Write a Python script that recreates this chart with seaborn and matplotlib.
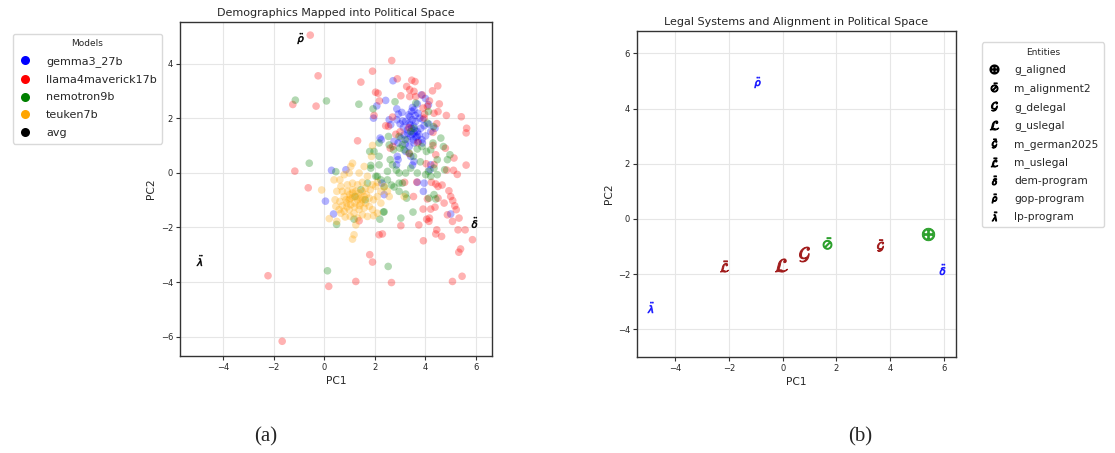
import matplotlib
matplotlib.use("Agg")
import matplotlib.pyplot as plt
from matplotlib.lines import Line2D
import pandas as pd
import seaborn as sns

# ---------------- data ----------------
models = ["gemma3_27b", "llama4maverick17b", "nemotron9b", "teuken7b", "avg"]
model_colors = ["blue", "red", "green", "orange", "black"]

gemma_pts = [
    (2.72, 3.37), (2.43, 2.65), (2.08, 2.45), (1.95, 2.00), (2.87, 2.34), (2.93, 2.15),
    (3.07, 2.21), (3.49, 2.39), (3.55, 2.30), (3.68, 2.52), (3.84, 2.85), (4.00, 2.72),
    (4.12, 2.49), (3.71, 2.18), (3.39, 2.06), (3.22, 1.88), (3.36, 1.82), (3.49, 1.94),
    (3.62, 1.88), (3.55, 1.70), (3.45, 1.63), (3.29, 1.57), (3.13, 1.66), (3.00, 1.79),
    (2.87, 1.94), (2.57, 1.94), (2.63, 1.76), (3.68, 1.51), (3.82, 1.63), (3.95, 1.72),
    (4.14, 1.78), (4.38, 1.63), (4.21, 1.51), (4.01, 1.35), (3.86, 1.21), (3.68, 1.33),
    (3.55, 1.45), (3.42, 1.33), (3.29, 1.21), (3.16, 1.39), (3.03, 1.27), (2.92, 1.09),
    (2.76, 1.15), (2.21, 1.27), (2.26, 1.21), (3.36, 0.96), (3.55, 1.09), (3.72, 1.15),
    (3.88, 1.09), (3.22, 0.78), (3.42, 0.60), (2.89, 0.60), (2.92, 0.48), (3.55, 0.41),
    (2.86, 0.29), (3.49, 0.28), (4.21, 0.29), (4.18, 0.11), (3.95, -0.38), (3.68, -0.35),
    (3.92, -0.68), (2.28, -0.38), (2.37, -0.80), (5.00, -1.51), (0.86, 0.11), (0.29, 0.09),
    (0.05, -1.04), (0.37, -1.51), (3.78, 2.00), (3.33, 2.12), (3.40, 1.75), (3.58, 1.55),
    (3.47, 1.40), (3.63, 1.30), (3.30, 1.45), (3.52, 1.20), (3.75, 1.40), (3.20, 1.05),
    (3.60, 2.10), (3.90, 1.95), (3.10, 1.90), (3.45, 2.25),
]

llama_pts = [
    (-0.55, 5.04), (-0.24, 3.55), (-0.32, 2.44), (-1.24, 2.50), (1.45, 3.32), (1.91, 3.72),
    (2.67, 4.11), (2.89, 3.44), (3.46, 3.39), (3.59, 3.34), (3.26, 3.16), (3.38, 3.04),
    (3.55, 2.98), (2.03, 2.95), (2.13, 2.91), (3.03, 2.82), (3.38, 2.79), (3.62, 2.79),
    (3.88, 2.85), (4.28, 3.00), (4.49, 3.18), (2.18, 2.63), (4.16, 2.63), (4.55, 2.52),
    (4.08, 2.43), (3.91, 2.37), (4.50, 2.24), (4.34, 2.18), (3.97, 2.15), (4.83, 2.10),
    (5.42, 2.05), (5.63, 1.63), (5.61, 1.46), (2.70, 2.04), (1.97, 2.10), (2.43, 1.72),
    (2.54, 1.70), (2.83, 1.41), (4.30, 1.48), (1.32, 1.17), (2.71, 0.96), (2.61, 0.90),
    (4.79, 0.90), (4.41, 0.66), (5.13, 0.54), (3.36, 0.70), (4.03, 0.33), (4.34, 0.30),
    (4.84, 0.10), (5.11, 0.09), (5.26, -0.06), (5.61, 0.28), (-1.16, 0.06), (-0.63, -0.55),
    (3.66, -0.34), (4.24, -0.35), (4.41, -0.41), (4.66, -0.45), (4.50, -0.50), (4.93, -0.66),
    (5.00, -0.87), (5.08, -1.02), (5.16, -1.21), (5.22, -1.35), (4.74, -1.11), (4.50, -0.93),
    (4.38, -1.26), (4.21, -1.33), (3.91, -1.33), (3.53, -0.87), (4.08, -0.96), (4.87, -1.54),
    (5.07, -1.78), (5.29, -2.09), (5.57, -2.09), (5.86, -2.45), (5.39, -2.79), (5.32, -2.91),
    (5.45, -3.79), (5.07, -3.98), (4.64, -2.33), (4.45, -2.09), (4.41, -2.24), (3.92, -2.49),
    (4.05, -1.70), (4.16, -1.66), (4.14, -1.78), (3.74, -1.91), (3.03, -1.94), (2.17, -2.27),
    (2.30, -2.24), (1.80, -3.00), (1.91, -3.27), (1.25, -3.98), (0.18, -4.16), (2.66, -4.02),
    (-2.22, -3.77), (-1.66, -6.17), (1.38, -1.76), (3.18, -0.35), (5.33, -1.66), (3.00, 1.50),
    (3.95, 2.00), (3.70, 1.10), (4.30, 1.00), (3.35, 1.65), (4.45, 1.80),
]

nemotron_pts = [
    (-1.14, 2.66), (0.09, 2.63), (1.37, 2.51), (1.93, 2.34), (2.80, 2.60), (3.62, 2.55),
    (4.12, 2.24), (-0.59, 0.35), (0.46, 0.04), (0.49, -1.89), (0.13, -3.59), (2.53, -3.43),
    (2.20, -1.70), (2.37, -1.43), (1.18, -1.70), (3.03, -1.66), (3.51, -1.44), (3.22, -0.78),
    (3.09, -0.38), (2.96, -0.38), (2.66, -0.45), (2.50, -0.26), (2.24, -0.26), (2.04, -0.13),
    (1.84, 0.17), (1.80, 0.78), (1.97, 0.78), (2.17, 0.60), (2.17, 0.29), (2.50, 0.05),
    (2.70, 0.29), (2.54, 1.33), (2.57, 1.02), (2.74, 0.84), (2.99, 0.90), (3.09, 1.02),
    (3.16, 0.84), (3.36, 0.72), (3.53, 0.60), (3.68, 0.87), (3.86, 0.96), (4.04, 0.78),
    (4.21, 0.84), (4.30, 1.09), (4.32, 1.69), (4.08, 1.82), (4.61, 1.27), (4.71, 0.96),
    (4.97, 0.66), (4.87, 0.48), (4.47, 0.48), (4.34, 0.17), (4.76, 0.11), (4.47, -0.07),
    (4.21, -0.13), (4.01, -0.07), (4.12, 0.05), (3.68, -0.01), (3.42, 0.17), (3.22, -0.01),
    (2.96, -0.01), (4.34, -0.80), (4.41, -0.96), (4.14, -0.93), (3.26, -0.93), (2.96, -0.68),
    (2.76, -0.52), (2.37, -0.52), (2.10, -0.13), (1.84, 0.27), (1.71, -0.38), (1.45, -0.62),
    (1.22, -0.87), (1.62, -0.99), (2.34, -1.44), (3.55, 1.63), (3.42, 1.51), (3.20, 1.21),
    (2.96, 1.33), (2.17, 1.09), (2.61, 0.48), (3.80, 0.40), (2.85, 0.10),
]

teuken_pts = [
    (-0.10, -0.63), (0.20, -1.68), (0.50, -1.78), (1.12, -2.43), (1.18, -2.27), (1.25, -1.91),
    (1.12, 0.35), (1.05, 0.23), (0.99, -0.01), (0.79, -0.07), (0.62, -0.26), (0.39, -0.26),
    (1.38, -0.01), (1.58, 0.23), (1.91, 1.00), (1.87, 0.60), (1.71, -0.13), (1.51, -0.35),
    (1.32, -0.44), (1.12, -0.38), (0.92, -0.44), (0.66, -0.50), (0.50, -0.68), (0.43, -0.99),
    (0.46, -1.23), (0.62, -1.05), (0.79, -0.87), (0.92, -0.68), (1.03, -0.93), (1.12, -0.74),
    (1.25, -0.68), (1.38, -0.74), (1.51, -0.68), (1.64, -0.56), (1.82, -0.62), (1.91, -0.44),
    (2.04, -0.50), (2.24, -0.68), (2.37, -0.50), (2.10, -0.87), (1.95, -0.99), (1.78, -0.93),
    (1.64, -1.11), (1.51, -0.99), (1.32, -0.99), (1.21, -1.11), (1.05, -1.17), (0.89, -1.11),
    (0.72, -1.21), (0.59, -1.35), (0.79, -1.41), (0.99, -1.35), (1.18, -1.48), (1.38, -1.35),
    (1.58, -1.29), (1.78, -1.23), (1.91, -1.35), (2.10, -1.48), (1.95, -1.57), (1.71, -1.60),
    (1.51, -1.54), (1.32, -1.66), (1.03, -1.60), (0.83, -1.62), (0.66, -1.48), (1.12, -0.90),
    (1.45, -1.11), (0.99, -0.99), (0.86, -0.99), (1.29, -0.87), (1.42, -0.93), (1.58, -0.87),
    (1.67, -0.80), (2.10, -0.35), (2.50, -0.68), (2.57, -0.87), (3.16, -0.87), (2.24, -1.11),
    (1.12, -0.62), (0.72, -0.68), (1.20, -1.25), (1.00, -0.80), (1.40, -1.20), (0.90, -1.25),
]

# programs (shared by both panels)
program_names = ["dem-program", "gop-program", "lp-program"]
program_x = [5.94, -0.97, -4.96]
program_y = [-1.82, 4.95, -3.18]
program_markers = [r"$\ddot{\delta}$", r"$\ddot{\rho}$", r"$\ddot{\lambda}$"]

# legal systems / alignment entities (right panel)
entity_names = ["g_aligned", "m_alignment2", "g_delegal", "g_uslegal",
                "m_german2025", "m_uslegal"]
entity_x = [5.40, 1.64, 0.79, -0.07, 3.62, -2.20]
entity_y = [-0.53, -0.86, -1.28, -1.68, -0.93, -1.71]
entity_markers = [r"$\oplus$", r"$\bar{\oslash}$", r"$\mathcal{G}$", r"$\mathcal{L}$",
                  r"$\bar{\mathcal{G}}$", r"$\bar{\mathcal{L}}$"]
entity_colors = ["#2ca02c", "#2ca02c", "#a11c1c", "#a11c1c", "#a11c1c", "#a11c1c"]

# ---------------- build table ----------------
rows = []
for name, pts in zip(models[:4], [gemma_pts, llama_pts, nemotron_pts, teuken_pts]):
    for x, y in pts:
        rows.append({"PC1": x, "PC2": y, "model": name})
df = pd.DataFrame(rows)

# ---------------- figure ----------------
sns.set_theme(style="ticks")
plt.rcParams["font.family"] = ["DejaVu Sans"]
fig = plt.figure(figsize=(11.15, 4.53), dpi=100)

axL = fig.add_axes([0.1614, 0.2141, 0.2798, 0.7373])
axR = fig.add_axes([0.5713, 0.2119, 0.2861, 0.7196])

for ax in (axL, axR):
    ax.grid(True, color="#e6e6e6", linewidth=0.8)
    ax.set_axisbelow(True)
    for sp in ax.spines.values():
        sp.set_visible(True)
        sp.set_color("#333333")
        sp.set_linewidth(1.0)
    ax.tick_params(axis="both", labelsize=6, length=3, width=0.8, color="#333333", pad=2)

# left panel
sns.scatterplot(data=df, x="PC1", y="PC2", hue="model", hue_order=models[:4],
                palette=dict(zip(models, model_colors)), s=30, alpha=0.3,
                linewidth=0, ax=axL, legend=False)
for x, y, m in zip(program_x, program_y, program_markers):
    sns.scatterplot(x=[x], y=[y], marker=m, s=60, color="black",
                    edgecolor="black", linewidth=0.4, ax=axL)
axL.set_xlim(-5.7, 6.63)
axL.set_ylim(-6.71, 5.52)
axL.set_xticks([-4, -2, 0, 2, 4, 6])
axL.set_yticks([-6, -4, -2, 0, 2, 4])
axL.set_title("Demographics Mapped into Political Space", fontsize=8, pad=4)
axL.set_xlabel("PC1", fontsize=7.7, labelpad=3)
axL.set_ylabel("PC2", fontsize=7.7, labelpad=3)

handlesL = [Line2D([], [], marker="o", linestyle="", markersize=6.5, color=c,
                   markeredgewidth=0) for c in model_colors]
fig.legend(handlesL, models, title="Models", loc="upper left",
           bbox_to_anchor=(0.0063, 0.938), fontsize=8, title_fontsize=6.5,
           labelspacing=0.7, handlelength=1.2, handletextpad=1.3,
           frameon=True, edgecolor="#d0d0d0", fancybox=True, borderpad=0.5)

# right panel
ent_sizes = [80, 70, 115, 90, 70, 65]
for x, y, m, c, s in zip(entity_x, entity_y, entity_markers, entity_colors, ent_sizes):
    sns.scatterplot(x=[x], y=[y], marker=m, s=s, color=c, edgecolor=c,
                    linewidth=0.7, ax=axR)
for x, y, m in zip(program_x, program_y, program_markers):
    sns.scatterplot(x=[x], y=[y], marker=m, s=60, color="blue", edgecolor="blue",
                    alpha=0.75, linewidth=0.6, ax=axR)
axR.set_xlim(-5.43, 6.46)
axR.set_ylim(-5.0, 6.81)
axR.set_xticks([-4, -2, 0, 2, 4, 6])
axR.set_yticks([-4, -2, 0, 2, 4, 6])
axR.set_title("Legal Systems and Alignment in Political Space", fontsize=8, pad=4)
axR.set_xlabel("PC1", fontsize=7.7, labelpad=3)
axR.set_ylabel("PC2", fontsize=7.7, labelpad=3)

all_names = entity_names + program_names
all_markers = entity_markers + program_markers
handlesR = [Line2D([], [], marker=m, linestyle="", markersize=6.5, color="black",
                   markeredgecolor="black", markeredgewidth=0.8) for m in all_markers]
fig.legend(handlesR, all_names, title="Entities", loc="upper left",
           bbox_to_anchor=(0.876, 0.918), fontsize=7.7, title_fontsize=6.5,
           labelspacing=0.72, handlelength=1.2, handletextpad=1.3,
           frameon=True, edgecolor="#d0d0d0", fancybox=True, borderpad=0.5)

# captions
fig.text(0.2386, 0.035, "(a)", fontsize=15, family="Liberation Serif", ha="center", va="center")
fig.text(0.7713, 0.035, "(b)", fontsize=15, family="Liberation Serif", ha="center", va="center")

fig.savefig("out.png", dpi=100, facecolor="white")
